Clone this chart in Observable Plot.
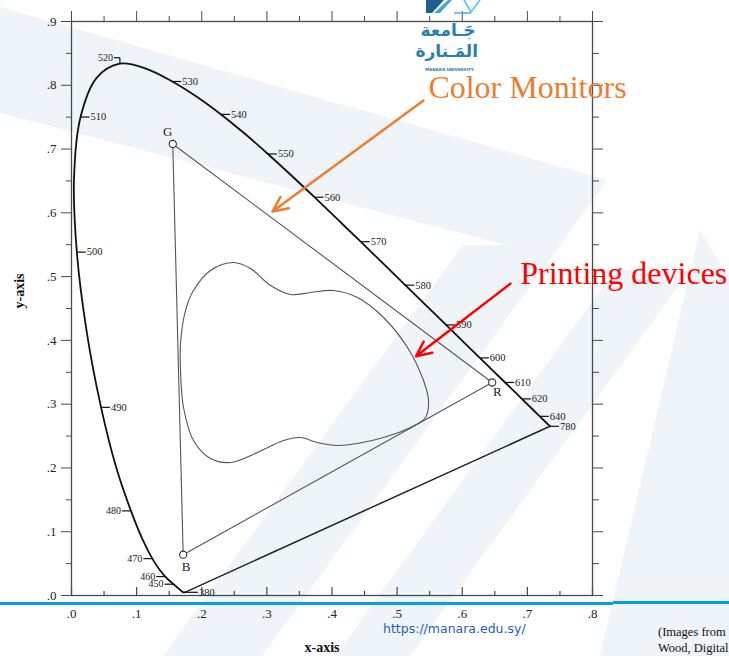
<!DOCTYPE html>
<html>
<head>
<meta charset="utf-8">
<script src="https://cdn.jsdelivr.net/npm/d3@7"></script>
<script src="https://cdn.jsdelivr.net/npm/@observablehq/plot@0.6"></script>
<style>
  html, body { margin: 0; padding: 0; background: #fff; width: 729px; height: 656px; overflow: hidden; }
  #wrap { position: relative; width: 729px; height: 656px; overflow: hidden; }
  #bg { position: absolute; left: 0; top: 0; }
  #chart { position: absolute; left: 0; top: 0; }
  .band { position: absolute; height: 3px; background: #03a1e4; }
  #logo { position: absolute; left: 418px; top: 0; width: 62px; }
  #logo .ar { position: absolute; left: 0; width: 60px; text-align: center; font-family: "DejaVu Sans", sans-serif;
              font-size: 17px; font-weight: bold; color: #2b7fae; direction: rtl; line-height: 17px; white-space: nowrap; }
  #logo .en { position: absolute; left: 7px; top: 68px; width: 48px; text-align: center; font-family: "DejaVu Sans", sans-serif;
              font-size: 4.2px; line-height: 4px; font-weight: bold; color: #2b7fae; white-space: nowrap; letter-spacing: -0.1px; }
  #url { position: absolute; left: 383px; top: 621px; font-family: "DejaVu Sans", sans-serif; font-size: 12.5px; color: #2460b8; white-space: nowrap; }
  #cite { position: absolute; left: 658px; top: 624px; width: 71px; overflow: hidden; font-family: "Liberation Serif", serif;
          font-size: 12.5px; line-height: 16px; color: #111; white-space: nowrap; }
</style>
</head>
<body>
<div id="wrap">
  <!-- faint university watermark behind the diagram -->
  <svg id="bg" width="729" height="656">
    <g fill="#eef4f8">
      <polygon points="0,7 607,180 552,257 0,113"/>
      <polygon points="163,656 262,656 560,245 463,245"/>
      <polygon points="335,656 410,656 690,270 615,270"/>
      <polygon points="600,656 700,230 729,280 729,656"/>
    </g>
  </svg>
  <div id="chart"></div>
  <div class="band" style="left:0;top:602px;width:613px;"></div>
  <div class="band" style="left:613px;top:601px;width:116px;"></div>
  <div id="logo">
    <svg width="62" height="16" style="position:absolute;left:6px;top:0">
      <polygon points="2,0 20,0 8,13 2,13" fill="#1d5f8f"/>
      <polygon points="10,13 24,0 28,0 16,13" fill="#3fa6dc"/>
      <polyline points="40,0 47,12 56,0" fill="none" stroke="#5cc3ee" stroke-width="1.6"/>
      <line x1="30" y1="13" x2="47" y2="13" stroke="#3fa6dc" stroke-width="1.4"/>
    </svg>
    <div class="ar" style="top:22px">جَـامعة</div>
    <div class="ar" style="top:43px">المَـنارة</div>
    <div class="en">MANARA UNIVERSITY</div>
  </div>
  <div id="url">https://manara.edu.sy/</div>
  <div id="cite">(Images from<br>Wood, Digital</div>
</div>
<script>
// CIE 1931 spectral locus (chromaticity x, y for each wavelength in nm)
const wavelengths = [380,390,400,410,420,430,440,445,450,455,460,465,470,475,480,485,490,495,500,505,
  510,515,520,525,530,535,540,545,550,555,560,565,570,575,580,585,590,595,600,605,610,620,630,640,650,660,680,780];
const locusX = [0.1741,0.1738,0.1733,0.1726,0.1714,0.1689,0.1644,0.1611,0.1566,0.1510,0.1440,0.1355,0.1241,0.1096,0.0913,0.0687,0.0454,0.0235,0.0082,0.0039,
  0.0139,0.0389,0.0743,0.1142,0.1547,0.1929,0.2296,0.2658,0.3016,0.3373,0.3731,0.4087,0.4441,0.4788,0.5125,0.5448,0.5752,0.6029,0.6270,0.6482,0.6658,0.6915,0.7079,0.7190,0.7260,0.7300,0.7334,0.7347];
const locusY = [0.0050,0.0049,0.0048,0.0048,0.0051,0.0069,0.0109,0.0138,0.0177,0.0227,0.0297,0.0399,0.0578,0.0868,0.1327,0.2007,0.2950,0.4127,0.5384,0.6548,
  0.7502,0.8120,0.8338,0.8262,0.8059,0.7816,0.7543,0.7243,0.6923,0.6589,0.6245,0.5896,0.5547,0.5202,0.4866,0.4544,0.4242,0.3965,0.3725,0.3514,0.3340,0.3083,0.2920,0.2809,0.2740,0.2700,0.2666,0.2653];

// wavelengths that carry a label on the locus
const labeledNm = [380,450,460,470,480,490,500,510,520,530,540,550,560,570,580,590,600,610,620,640,780];

// monitor primaries
const primaryNames = ["G", "R", "B"];
const primaryX = [0.1555, 0.646, 0.1715];
const primaryY = [0.708, 0.334, 0.064];

// printing-device gamut outline
const gamutX = [0.1674,0.1750,0.1873,0.2134,0.2488,0.2749,0.3056,0.3363,0.3670,0.4023,0.4392,0.4791,0.5159,0.5405,0.5482,
  0.5436,0.5205,0.4791,0.4392,0.4084,0.3777,0.3516,0.3255,0.2856,0.2441,0.2134,0.1873,0.1720,0.1674];
const gamutY = [0.3951,0.4468,0.4782,0.5096,0.5221,0.5127,0.4860,0.4719,0.4751,0.4782,0.4672,0.4359,0.3888,0.3371,0.3057,
  0.2791,0.2634,0.2477,0.2383,0.2352,0.2399,0.2477,0.2430,0.2242,0.2085,0.2148,0.2430,0.2948,0.3528];

// axis ticks
const xMajor = [0,0.1,0.2,0.3,0.4,0.5,0.6,0.7,0.8];
const xMinor = [0.05,0.15,0.25,0.35,0.45,0.55,0.65,0.75];
const yMajor = [0,0.1,0.2,0.3,0.4,0.5,0.6,0.7,0.8,0.9];
const yMinor = [0.05,0.15,0.25,0.35,0.45,0.55,0.65,0.75,0.85];
const xTickLabels = [".0",".1",".2",".3",".4",".5",".6",".7",".8"];
const yTickLabels = [".0",".1",".2",".3",".4",".5",".6",".7",".8",".9"];

// callouts
const calloutText = ["Color Monitors", "Printing devices"];
const calloutX = [0.548, 0.689];
const calloutY = [0.7965, 0.505];
const arrowX1 = [0.5405, 0.674];
const arrowY1 = [0.776, 0.489];
const arrowX2 = [0.3086, 0.529];
const arrowY2 = [0.602, 0.375];
const calloutColor = ["#ed7d31", "#ff0000"];

// layout
const W = 729, H = 656, ML = 71, MR = 137, MT = 21, MB = 61;
const xDomain = [0, 0.8], yDomain = [0, 0.9];
const kx = (W - ML - MR) / (xDomain[1] - xDomain[0]); // px per unit
const ky = (H - MT - MB) / (yDomain[1] - yDomain[0]);
const axisInk = "#4a4a4a";
const serif = "'Liberation Serif', 'Times New Roman', serif";

const locus = wavelengths.map((nm, i) => ({nm, x: locusX[i], y: locusY[i]}));
const last = locus.length - 1;
const purpleLine = [{x1: locusX[0], y1: locusY[0], x2: locusX[last], y2: locusY[last]}];
const primaries = primaryNames.map((name, i) => ({name, x: primaryX[i], y: primaryY[i]}));
const gamut = gamutX.map((x, i) => ({x, y: gamutY[i]}));

// short marker ticks and labels along the locus: blue end to the left,
// 520 hooked over the top, everything else to the right
const nmTicks = [], nmLabels = [];
for (const nm of labeledNm) {
  const i = wavelengths.indexOf(nm);
  const x = locusX[i], y = locusY[i];
  if (nm === 520) {
    const yTop = y + 6 / ky, xEnd = x - 6 / kx;
    nmTicks.push({x1: x, y1: y, x2: x, y2: yTop}, {x1: x, y1: yTop, x2: xEnd, y2: yTop});
    nmLabels.push({x: xEnd, y: yTop, text: String(nm), side: "left"});
  } else {
    const dir = nm > 380 && nm < 485 ? -1 : 1;
    const len = nm === 380 ? 13 : 9;
    const xEnd = x + dir * len / kx;
    nmTicks.push({x1: x, y1: y, x2: xEnd, y2: y});
    nmLabels.push({x: xEnd, y, text: String(nm), side: dir < 0 ? "left" : "right"});
  }
}

const labelOffset = {G: [-5, -12], R: [5, 9], B: [3, 12]};

const chart = Plot.plot({
  width: W, height: H,
  marginLeft: ML, marginRight: MR, marginTop: MT, marginBottom: MB,
  x: {domain: xDomain, axis: null, label: null},
  y: {domain: yDomain, axis: null, label: null},
  style: {fontFamily: serif, fontSize: "13px", background: "transparent", color: "#222", overflow: "visible"},
  marks: [
    Plot.frame({stroke: axisInk, strokeWidth: 1.3}),
    // left axis
    Plot.axisY(yMajor, {anchor: "left", tickSize: 10, tickPadding: 5, stroke: axisInk,
      tickFormat: d => yTickLabels[Math.round(d * 10)], fontSize: 13, label: null}),
    Plot.axisY(yMinor, {anchor: "left", tickSize: 5, stroke: axisInk, tickFormat: () => "", label: null}),
    // right axis
    Plot.axisY(yMajor, {anchor: "right", tickSize: 10, stroke: axisInk, tickFormat: () => "", label: null}),
    Plot.axisY(yMinor, {anchor: "right", tickSize: 6, stroke: axisInk, tickFormat: () => "", label: null}),
    // top axis
    Plot.axisX(xMajor, {anchor: "top", tickSize: 11, stroke: axisInk, tickFormat: () => "", label: null}),
    Plot.axisX(xMinor, {anchor: "top", tickSize: 6, stroke: axisInk, tickFormat: () => "", label: null}),
    // bottom axis: labels below, ticks pointing inward
    Plot.axisX(xMajor, {anchor: "bottom", tickSize: 0, tickPadding: 13,
      tickFormat: d => xTickLabels[Math.round(d * 10)], fontSize: 13, label: null}),
    Plot.ruleX(xMajor, {x: d => d, y1: 0, y2: 8 / ky, stroke: axisInk, strokeWidth: 1.2}),
    Plot.ruleX(xMinor, {x: d => d, y1: 0, y2: 4 / ky, stroke: axisInk, strokeWidth: 1.2}),
    // axis titles
    Plot.text(["x-axis"], {frameAnchor: "bottom", dx: -10, dy: 56, fontWeight: "bold", fontSize: 14, fill: "#111"}),
    Plot.text(["y-axis"], {frameAnchor: "left", dx: -52, rotate: -90, fontWeight: "bold", fontSize: 14, fill: "#111"}),
    // monitor gamut triangle
    Plot.line(primaries, {x: "x", y: "y", curve: "linear-closed", stroke: "#555", strokeWidth: 1.1}),
    // printing gamut
    Plot.line(gamut, {x: "x", y: "y", curve: "catmull-rom-closed", stroke: "#555", strokeWidth: 1.1}),
    // spectral locus and line of purples
    Plot.line(locus, {x: "x", y: "y", curve: "catmull-rom", stroke: "#111", strokeWidth: 1.8}),
    Plot.link(purpleLine, {x1: "x1", y1: "y1", x2: "x2", y2: "y2", stroke: "#222", strokeWidth: 1.5}),
    Plot.link(nmTicks, {x1: "x1", y1: "y1", x2: "x2", y2: "y2", stroke: "#111", strokeWidth: 1.2}),
    Plot.text(nmLabels.filter(d => d.side === "left"), {x: "x", y: "y", text: "text", textAnchor: "end", dx: -1,
      fontSize: 10, fill: "#222", letterSpacing: "-0.3px"}),
    Plot.text(nmLabels.filter(d => d.side === "right"), {x: "x", y: "y", text: "text", textAnchor: "start", dx: 1,
      fontSize: 10.5, fill: "#222", letterSpacing: "-0.4px"}),
    // primaries
    Plot.dot(primaries, {x: "x", y: "y", r: 3.6, fill: "white", stroke: "#333", strokeWidth: 1.1}),
    ...primaries.map(p => Plot.text([p], {x: "x", y: "y", text: "name", dx: labelOffset[p.name][0], dy: labelOffset[p.name][1],
      fontSize: 13, fill: "#222"})),
    // callouts
    ...calloutText.map((t, i) => Plot.arrow([i], {x1: () => arrowX1[i], y1: () => arrowY1[i], x2: () => arrowX2[i], y2: () => arrowY2[i],
      stroke: calloutColor[i], strokeWidth: 2.5, headLength: 10, headAngle: 50})),
    ...calloutText.map((t, i) => Plot.text([t], {x: () => calloutX[i], y: () => calloutY[i], text: d => d, textAnchor: "start",
      fontSize: 32, fill: calloutColor[i]}))
  ]
});
document.getElementById("chart").appendChild(chart);
</script>
</body>
</html>
